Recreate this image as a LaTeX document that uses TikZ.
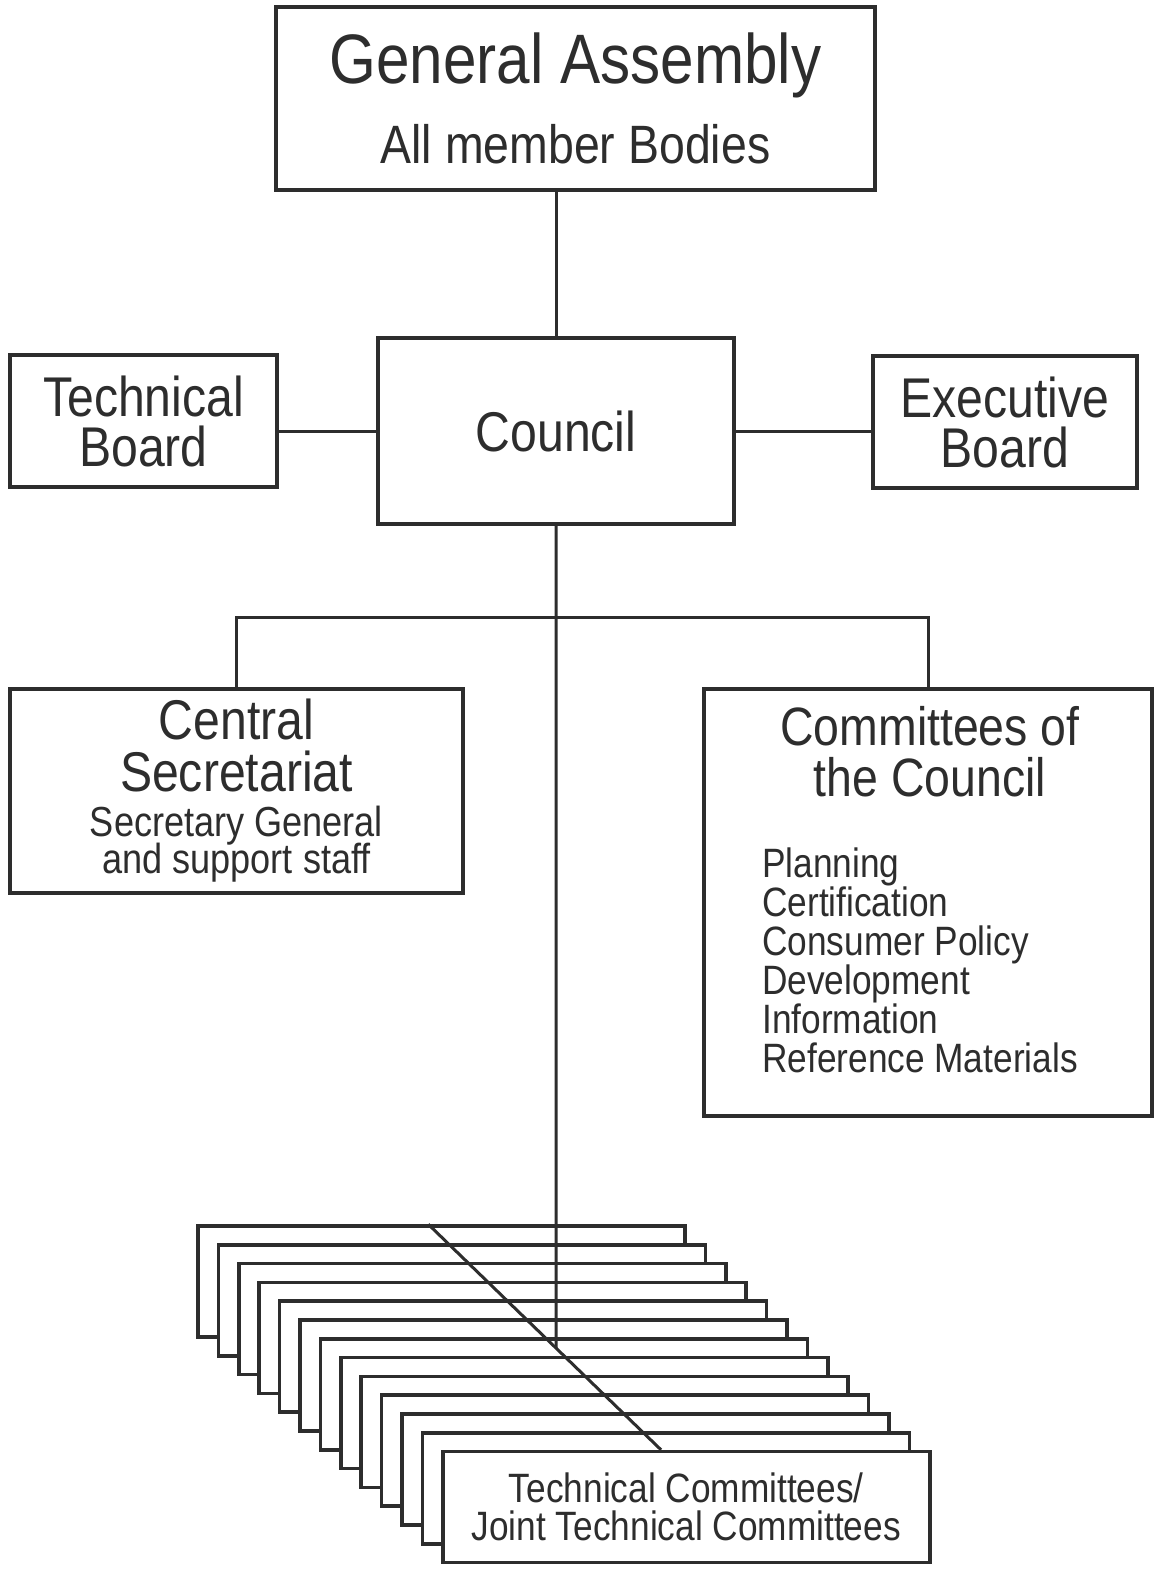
\documentclass[tikz,border=0pt]{standalone}
\usepackage{fontspec}
\setmainfont[FakeStretch=0.86]{Liberation Sans}
\usetikzlibrary{calc}
\definecolor{ink}{RGB}{45,45,45}
\newcommand{\fs}[2]{\fontsize{#1}{#2}\selectfont}
\setlength{\lineskiplimit}{-200pt}

\begin{document}
\begin{tikzpicture}
[x=1pt,y=-1pt,
every node/.style={text=ink},
box/.style={draw=ink,line width=3.5pt,fill=white,inner sep=0pt,align=center},
tcbox/.style={box,minimum width=487pt,minimum height=111pt},
txt/.style={inner sep=0pt},
conn/.style={draw=ink,line width=3pt}
]
\useasboundingbox (0,0) rectangle (1159,1575);

% top of the chart
\node[box,minimum width=599pt,minimum height=183pt,font=\fs{54}{80}] (ga) at (575.5,98.5)
  {\fs{70}{80}General Assembly\\All member Bodies};
\node[box,minimum width=356pt,minimum height=186pt,font=\fs{56}{60}] (council) at (556,431)
  {Council};
\node[box,minimum width=267pt,minimum height=132pt,font=\fs{56}{50}] (tb) at (143.5,421)
  {Technical\\Board};
\node[box,minimum width=264pt,minimum height=132pt,font=\fs{56}{50}] (ex) at (1005,422)
  {Executive\\Board};

% second level
\node[box,minimum width=453pt,minimum height=204pt,font=\fs{56}{37}] (cs) at (236.5,791)
  {Central\\[15pt]Secretariat\\[8pt]\fs{42}{37}Secretary General\\\fs{42}{37}and support staff};
\node[box,minimum width=448pt,minimum height=427pt] (comc) at (928,902.5) {};
\node[txt,anchor=north,align=center,font=\fs{54}{51}] (comct) at (930,706)
  {Committees of\\the Council};
\node[txt,anchor=north west,align=left,font=\fs{41}{39}] (comcl) at (762,848)
  {Planning\\Certification\\Consumer Policy\\Development\\Information\\Reference Materials};

% stack of technical committees
\foreach \i in {0,...,11}
  \node[tcbox] (tc\i) at ({441.5+\i*20.4},{1281.5+\i*18.8}) {};
\node[tcbox,font=\fs{41}{38}] (tc12) at (686.3,1507.1)
  {Technical Committees/\\Joint Technical Committees};

\coordinate (dtop) at ($(tc0.north west)+(232,0)$);
\coordinate (dbot) at ($(tc12.north west)+(220,0)$);
\coordinate (tcjoin) at (intersection of council.north--council.south and dtop--dbot);
\coordinate (split) at ($(council.south)+(0,92)$);

% connectors
\draw[conn] (council.north) -- (council.north |- ga.south);
\draw[conn] (council.west) -- (council.west -| tb.east);
\draw[conn] (council.east) -- (council.east -| ex.west);
\draw[conn] (cs.north) |- (split) -| (comc.north);
\draw[conn] (council.south) -- (tcjoin);
\draw[conn] (dtop) -- (dbot);
\end{tikzpicture}
\end{document}
